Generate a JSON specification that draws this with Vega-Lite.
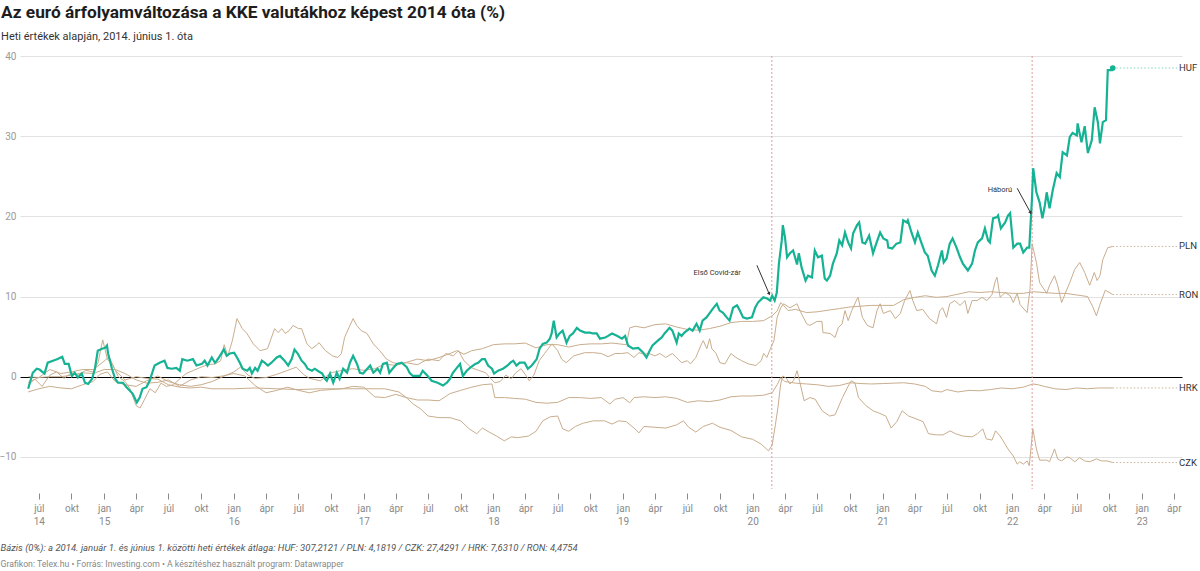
{
"$schema":"https://vega.github.io/schema/vega-lite/v6.json",
"width":1162,"height":433,
"autosize":{"type":"none"},
"padding":{"left":20,"top":56,"right":18,"bottom":82},
"background":"white",
"title":{"text":"Az euró árfolyamváltozása a KKE valutákhoz képest 2014 óta (%)","subtitle":"Heti értékek alapján, 2014. június 1. óta","anchor":"start","dx":2,"offset":9,"font":"Roboto","fontSize":17.3,"fontWeight":"bold","color":"#1d1d1d","subtitleFont":"Roboto","subtitleFontSize":11,"subtitleColor":"#333333","subtitlePadding":10},
"datasets":{
"fx":[
{"c":"HUF","d":"2014-06-01","v":-1.5},{"c":"HUF","d":"2014-06-14","v":0.5},{"c":"HUF","d":"2014-06-25","v":1.0},{"c":"HUF","d":"2014-07-03","v":0.9},{"c":"HUF","d":"2014-07-17","v":0.4},{"c":"HUF","d":"2014-07-26","v":1.75},{"c":"HUF","d":"2014-08-10","v":2.0},{"c":"HUF","d":"2014-08-23","v":2.2},{"c":"HUF","d":"2014-09-05","v":2.5},{"c":"HUF","d":"2014-09-12","v":1.6},{"c":"HUF","d":"2014-09-23","v":1.6},{"c":"HUF","d":"2014-10-02","v":0.1},{"c":"HUF","d":"2014-10-10","v":0.5},{"c":"HUF","d":"2014-10-19","v":-0.1},{"c":"HUF","d":"2014-10-30","v":0.4},{"c":"HUF","d":"2014-11-08","v":-0.75},{"c":"HUF","d":"2014-11-17","v":-0.9},{"c":"HUF","d":"2014-11-28","v":-0.25},{"c":"HUF","d":"2014-12-06","v":1.0},{"c":"HUF","d":"2014-12-14","v":3.25},{"c":"HUF","d":"2014-12-26","v":3.5},{"c":"HUF","d":"2015-01-04","v":3.6},{"c":"HUF","d":"2015-01-09","v":3.9},{"c":"HUF","d":"2015-01-12","v":2.9},{"c":"HUF","d":"2015-01-23","v":1.0},{"c":"HUF","d":"2015-02-01","v":-0.25},{"c":"HUF","d":"2015-02-09","v":-0.75},{"c":"HUF","d":"2015-02-23","v":-0.75},{"c":"HUF","d":"2015-03-05","v":-1.3},{"c":"HUF","d":"2015-03-22","v":-2.1},{"c":"HUF","d":"2015-04-03","v":-3.2},{"c":"HUF","d":"2015-04-11","v":-2.6},{"c":"HUF","d":"2015-04-19","v":-1.5},{"c":"HUF","d":"2015-04-30","v":-1.3},{"c":"HUF","d":"2015-05-09","v":-0.5},{"c":"HUF","d":"2015-05-23","v":1.4},{"c":"HUF","d":"2015-06-06","v":1.75},{"c":"HUF","d":"2015-06-20","v":2.0},{"c":"HUF","d":"2015-06-28","v":1.1},{"c":"HUF","d":"2015-07-10","v":1.0},{"c":"HUF","d":"2015-07-23","v":1.1},{"c":"HUF","d":"2015-08-02","v":0.75},{"c":"HUF","d":"2015-08-09","v":2.2},{"c":"HUF","d":"2015-08-23","v":2.0},{"c":"HUF","d":"2015-09-08","v":2.2},{"c":"HUF","d":"2015-09-18","v":1.4},{"c":"HUF","d":"2015-10-03","v":1.6},{"c":"HUF","d":"2015-10-11","v":2.0},{"c":"HUF","d":"2015-10-19","v":1.4},{"c":"HUF","d":"2015-10-31","v":2.4},{"c":"HUF","d":"2015-11-09","v":1.75},{"c":"HUF","d":"2015-11-14","v":2.0},{"c":"HUF","d":"2015-11-23","v":2.6},{"c":"HUF","d":"2015-12-04","v":3.4},{"c":"HUF","d":"2015-12-12","v":2.6},{"c":"HUF","d":"2015-12-21","v":2.9},{"c":"HUF","d":"2016-01-02","v":3.0},{"c":"HUF","d":"2016-01-10","v":2.4},{"c":"HUF","d":"2016-01-18","v":1.75},{"c":"HUF","d":"2016-01-26","v":1.0},{"c":"HUF","d":"2016-02-08","v":0.75},{"c":"HUF","d":"2016-02-15","v":1.1},{"c":"HUF","d":"2016-02-21","v":0.4},{"c":"HUF","d":"2016-03-01","v":1.1},{"c":"HUF","d":"2016-03-08","v":0.75},{"c":"HUF","d":"2016-03-20","v":2.0},{"c":"HUF","d":"2016-03-28","v":1.75},{"c":"HUF","d":"2016-04-06","v":1.4},{"c":"HUF","d":"2016-04-16","v":1.75},{"c":"HUF","d":"2016-05-01","v":2.4},{"c":"HUF","d":"2016-05-10","v":2.6},{"c":"HUF","d":"2016-05-23","v":2.0},{"c":"HUF","d":"2016-06-02","v":1.4},{"c":"HUF","d":"2016-06-12","v":2.2},{"c":"HUF","d":"2016-06-20","v":3.4},{"c":"HUF","d":"2016-06-29","v":2.9},{"c":"HUF","d":"2016-07-10","v":2.0},{"c":"HUF","d":"2016-07-19","v":1.6},{"c":"HUF","d":"2016-07-27","v":1.0},{"c":"HUF","d":"2016-08-08","v":0.75},{"c":"HUF","d":"2016-08-16","v":1.0},{"c":"HUF","d":"2016-08-24","v":0.75},{"c":"HUF","d":"2016-09-06","v":0.4},{"c":"HUF","d":"2016-09-14","v":-0.25},{"c":"HUF","d":"2016-09-19","v":-0.5},{"c":"HUF","d":"2016-09-28","v":0.4},{"c":"HUF","d":"2016-10-07","v":-0.75},{"c":"HUF","d":"2016-10-17","v":0.5},{"c":"HUF","d":"2016-10-25","v":-0.25},{"c":"HUF","d":"2016-11-04","v":1.0},{"c":"HUF","d":"2016-11-15","v":0.5},{"c":"HUF","d":"2016-11-23","v":1.75},{"c":"HUF","d":"2016-12-02","v":2.6},{"c":"HUF","d":"2016-12-13","v":1.6},{"c":"HUF","d":"2016-12-21","v":0.5},{"c":"HUF","d":"2016-12-30","v":0.4},{"c":"HUF","d":"2017-01-11","v":1.0},{"c":"HUF","d":"2017-01-19","v":1.4},{"c":"HUF","d":"2017-01-28","v":0.5},{"c":"HUF","d":"2017-02-09","v":1.0},{"c":"HUF","d":"2017-02-16","v":0.5},{"c":"HUF","d":"2017-02-24","v":1.6},{"c":"HUF","d":"2017-03-07","v":1.75},{"c":"HUF","d":"2017-03-14","v":0.5},{"c":"HUF","d":"2017-03-23","v":1.0},{"c":"HUF","d":"2017-04-04","v":1.6},{"c":"HUF","d":"2017-04-18","v":1.75},{"c":"HUF","d":"2017-05-02","v":1.2},{"c":"HUF","d":"2017-05-10","v":0.5},{"c":"HUF","d":"2017-05-19","v":0.1},{"c":"HUF","d":"2017-06-08","v":0.1},{"c":"HUF","d":"2017-06-16","v":0.75},{"c":"HUF","d":"2017-06-30","v":0.1},{"c":"HUF","d":"2017-07-11","v":-0.5},{"c":"HUF","d":"2017-07-28","v":-0.75},{"c":"HUF","d":"2017-08-12","v":-1.1},{"c":"HUF","d":"2017-08-23","v":-0.75},{"c":"HUF","d":"2017-09-01","v":-0.25},{"c":"HUF","d":"2017-09-09","v":0.5},{"c":"HUF","d":"2017-09-20","v":1.1},{"c":"HUF","d":"2017-09-29","v":1.6},{"c":"HUF","d":"2017-10-07","v":0.1},{"c":"HUF","d":"2017-10-18","v":0.75},{"c":"HUF","d":"2017-10-27","v":1.1},{"c":"HUF","d":"2017-11-11","v":1.6},{"c":"HUF","d":"2017-11-19","v":1.75},{"c":"HUF","d":"2017-11-30","v":2.2},{"c":"HUF","d":"2017-12-08","v":2.2},{"c":"HUF","d":"2017-12-17","v":1.4},{"c":"HUF","d":"2017-12-28","v":1.0},{"c":"HUF","d":"2018-01-03","v":0.4},{"c":"HUF","d":"2018-01-14","v":0.75},{"c":"HUF","d":"2018-01-28","v":1.0},{"c":"HUF","d":"2018-02-10","v":1.4},{"c":"HUF","d":"2018-02-18","v":1.75},{"c":"HUF","d":"2018-02-26","v":2.0},{"c":"HUF","d":"2018-03-07","v":1.4},{"c":"HUF","d":"2018-03-16","v":1.75},{"c":"HUF","d":"2018-03-30","v":1.75},{"c":"HUF","d":"2018-04-08","v":1.0},{"c":"HUF","d":"2018-04-19","v":1.4},{"c":"HUF","d":"2018-05-03","v":2.2},{"c":"HUF","d":"2018-05-11","v":3.5},{"c":"HUF","d":"2018-05-20","v":4.1},{"c":"HUF","d":"2018-05-31","v":4.25},{"c":"HUF","d":"2018-06-09","v":4.75},{"c":"HUF","d":"2018-06-14","v":5.4},{"c":"HUF","d":"2018-06-20","v":7.0},{"c":"HUF","d":"2018-06-28","v":4.9},{"c":"HUF","d":"2018-07-06","v":5.4},{"c":"HUF","d":"2018-07-15","v":5.75},{"c":"HUF","d":"2018-07-26","v":4.25},{"c":"HUF","d":"2018-08-04","v":5.1},{"c":"HUF","d":"2018-08-13","v":5.4},{"c":"HUF","d":"2018-08-24","v":6.1},{"c":"HUF","d":"2018-09-02","v":5.75},{"c":"HUF","d":"2018-09-16","v":5.5},{"c":"HUF","d":"2018-09-30","v":5.5},{"c":"HUF","d":"2018-10-08","v":5.4},{"c":"HUF","d":"2018-10-19","v":5.4},{"c":"HUF","d":"2018-10-28","v":4.75},{"c":"HUF","d":"2018-11-12","v":4.9},{"c":"HUF","d":"2018-11-20","v":5.1},{"c":"HUF","d":"2018-12-01","v":5.4},{"c":"HUF","d":"2018-12-15","v":5.1},{"c":"HUF","d":"2018-12-29","v":4.75},{"c":"HUF","d":"2019-01-07","v":5.1},{"c":"HUF","d":"2019-01-15","v":3.9},{"c":"HUF","d":"2019-01-29","v":3.5},{"c":"HUF","d":"2019-02-13","v":3.6},{"c":"HUF","d":"2019-02-27","v":3.0},{"c":"HUF","d":"2019-03-08","v":2.4},{"c":"HUF","d":"2019-03-17","v":3.25},{"c":"HUF","d":"2019-03-25","v":3.9},{"c":"HUF","d":"2019-04-09","v":4.5},{"c":"HUF","d":"2019-04-20","v":4.9},{"c":"HUF","d":"2019-04-28","v":5.4},{"c":"HUF","d":"2019-05-12","v":6.1},{"c":"HUF","d":"2019-05-20","v":5.75},{"c":"HUF","d":"2019-06-01","v":4.25},{"c":"HUF","d":"2019-06-07","v":5.4},{"c":"HUF","d":"2019-06-15","v":5.1},{"c":"HUF","d":"2019-06-23","v":5.5},{"c":"HUF","d":"2019-07-07","v":6.0},{"c":"HUF","d":"2019-07-16","v":5.75},{"c":"HUF","d":"2019-07-27","v":6.6},{"c":"HUF","d":"2019-08-05","v":5.75},{"c":"HUF","d":"2019-08-13","v":7.0},{"c":"HUF","d":"2019-08-24","v":7.4},{"c":"HUF","d":"2019-09-03","v":8.0},{"c":"HUF","d":"2019-09-11","v":8.5},{"c":"HUF","d":"2019-09-22","v":9.1},{"c":"HUF","d":"2019-09-30","v":8.25},{"c":"HUF","d":"2019-10-09","v":8.0},{"c":"HUF","d":"2019-10-20","v":7.4},{"c":"HUF","d":"2019-10-28","v":7.0},{"c":"HUF","d":"2019-11-07","v":8.6},{"c":"HUF","d":"2019-11-18","v":8.9},{"c":"HUF","d":"2019-11-26","v":8.25},{"c":"HUF","d":"2019-12-05","v":7.4},{"c":"HUF","d":"2019-12-16","v":7.25},{"c":"HUF","d":"2019-12-30","v":7.4},{"c":"HUF","d":"2020-01-08","v":8.6},{"c":"HUF","d":"2020-01-16","v":9.25},{"c":"HUF","d":"2020-01-31","v":9.9},{"c":"HUF","d":"2020-02-11","v":9.75},{"c":"HUF","d":"2020-02-19","v":9.5},{"c":"HUF","d":"2020-02-25","v":10.1},{"c":"HUF","d":"2020-03-03","v":9.5},{"c":"HUF","d":"2020-03-09","v":10.5},{"c":"HUF","d":"2020-03-15","v":14.1},{"c":"HUF","d":"2020-03-23","v":17.0},{"c":"HUF","d":"2020-03-26","v":18.9},{"c":"HUF","d":"2020-04-01","v":17.4},{"c":"HUF","d":"2020-04-07","v":14.9},{"c":"HUF","d":"2020-04-15","v":15.4},{"c":"HUF","d":"2020-04-24","v":15.75},{"c":"HUF","d":"2020-05-05","v":14.0},{"c":"HUF","d":"2020-05-10","v":15.4},{"c":"HUF","d":"2020-05-18","v":13.6},{"c":"HUF","d":"2020-05-29","v":12.0},{"c":"HUF","d":"2020-06-05","v":12.6},{"c":"HUF","d":"2020-06-16","v":12.4},{"c":"HUF","d":"2020-06-24","v":15.75},{"c":"HUF","d":"2020-07-03","v":14.9},{"c":"HUF","d":"2020-07-14","v":15.1},{"c":"HUF","d":"2020-07-22","v":12.25},{"c":"HUF","d":"2020-07-28","v":12.0},{"c":"HUF","d":"2020-08-06","v":12.6},{"c":"HUF","d":"2020-08-14","v":14.1},{"c":"HUF","d":"2020-08-25","v":15.4},{"c":"HUF","d":"2020-09-01","v":17.0},{"c":"HUF","d":"2020-09-09","v":16.4},{"c":"HUF","d":"2020-09-17","v":18.0},{"c":"HUF","d":"2020-09-26","v":16.75},{"c":"HUF","d":"2020-10-04","v":16.0},{"c":"HUF","d":"2020-10-10","v":17.9},{"c":"HUF","d":"2020-10-21","v":18.9},{"c":"HUF","d":"2020-10-27","v":19.25},{"c":"HUF","d":"2020-11-05","v":16.75},{"c":"HUF","d":"2020-11-13","v":16.6},{"c":"HUF","d":"2020-11-24","v":17.6},{"c":"HUF","d":"2020-12-05","v":15.4},{"c":"HUF","d":"2020-12-14","v":16.6},{"c":"HUF","d":"2020-12-25","v":18.0},{"c":"HUF","d":"2021-01-03","v":17.25},{"c":"HUF","d":"2021-01-14","v":17.0},{"c":"HUF","d":"2021-01-17","v":16.1},{"c":"HUF","d":"2021-01-28","v":16.0},{"c":"HUF","d":"2021-02-09","v":16.6},{"c":"HUF","d":"2021-02-20","v":16.75},{"c":"HUF","d":"2021-02-28","v":19.5},{"c":"HUF","d":"2021-03-10","v":19.25},{"c":"HUF","d":"2021-03-13","v":19.5},{"c":"HUF","d":"2021-03-24","v":17.9},{"c":"HUF","d":"2021-04-02","v":16.75},{"c":"HUF","d":"2021-04-10","v":18.0},{"c":"HUF","d":"2021-04-21","v":16.6},{"c":"HUF","d":"2021-04-30","v":15.5},{"c":"HUF","d":"2021-05-08","v":15.1},{"c":"HUF","d":"2021-05-19","v":13.25},{"c":"HUF","d":"2021-05-28","v":12.6},{"c":"HUF","d":"2021-06-06","v":13.9},{"c":"HUF","d":"2021-06-17","v":15.75},{"c":"HUF","d":"2021-06-22","v":14.25},{"c":"HUF","d":"2021-06-30","v":14.75},{"c":"HUF","d":"2021-07-09","v":16.6},{"c":"HUF","d":"2021-07-17","v":17.25},{"c":"HUF","d":"2021-07-28","v":16.1},{"c":"HUF","d":"2021-08-07","v":14.9},{"c":"HUF","d":"2021-08-15","v":14.1},{"c":"HUF","d":"2021-08-29","v":13.25},{"c":"HUF","d":"2021-09-10","v":14.1},{"c":"HUF","d":"2021-09-18","v":15.75},{"c":"HUF","d":"2021-09-26","v":16.75},{"c":"HUF","d":"2021-10-08","v":17.25},{"c":"HUF","d":"2021-10-16","v":18.5},{"c":"HUF","d":"2021-10-25","v":17.0},{"c":"HUF","d":"2021-10-30","v":16.75},{"c":"HUF","d":"2021-11-08","v":19.75},{"c":"HUF","d":"2021-11-19","v":19.9},{"c":"HUF","d":"2021-11-22","v":20.1},{"c":"HUF","d":"2021-11-30","v":18.5},{"c":"HUF","d":"2021-12-12","v":19.25},{"c":"HUF","d":"2021-12-20","v":20.1},{"c":"HUF","d":"2021-12-26","v":20.4},{"c":"HUF","d":"2022-01-04","v":16.1},{"c":"HUF","d":"2022-01-15","v":16.6},{"c":"HUF","d":"2022-01-23","v":16.6},{"c":"HUF","d":"2022-02-01","v":15.5},{"c":"HUF","d":"2022-02-12","v":16.1},{"c":"HUF","d":"2022-02-18","v":16.1},{"c":"HUF","d":"2022-02-26","v":22.6},{"c":"HUF","d":"2022-03-01","v":26.0},{"c":"HUF","d":"2022-03-10","v":23.0},{"c":"HUF","d":"2022-03-19","v":21.75},{"c":"HUF","d":"2022-03-27","v":19.75},{"c":"HUF","d":"2022-04-03","v":21.4},{"c":"HUF","d":"2022-04-08","v":23.0},{"c":"HUF","d":"2022-04-16","v":21.0},{"c":"HUF","d":"2022-04-25","v":23.25},{"c":"HUF","d":"2022-05-06","v":25.4},{"c":"HUF","d":"2022-05-15","v":24.9},{"c":"HUF","d":"2022-05-23","v":28.0},{"c":"HUF","d":"2022-06-04","v":27.6},{"c":"HUF","d":"2022-06-12","v":29.9},{"c":"HUF","d":"2022-06-20","v":30.4},{"c":"HUF","d":"2022-07-02","v":30.1},{"c":"HUF","d":"2022-07-04","v":31.6},{"c":"HUF","d":"2022-07-15","v":29.25},{"c":"HUF","d":"2022-07-24","v":31.25},{"c":"HUF","d":"2022-08-02","v":27.9},{"c":"HUF","d":"2022-08-13","v":29.5},{"c":"HUF","d":"2022-08-21","v":33.6},{"c":"HUF","d":"2022-08-30","v":31.75},{"c":"HUF","d":"2022-09-05","v":29.1},{"c":"HUF","d":"2022-09-13","v":31.75},{"c":"HUF","d":"2022-09-22","v":32.0},{"c":"HUF","d":"2022-09-27","v":38.25},{"c":"HUF","d":"2022-10-09","v":38.25},{"c":"HUF","d":"2022-10-11","v":38.5},

{"c":"PLN","d":"2014-06-01","v":-1.0},{"c":"PLN","d":"2014-06-20","v":-0.3},{"c":"PLN","d":"2014-07-10","v":-1.2},{"c":"PLN","d":"2014-08-01","v":0.2},{"c":"PLN","d":"2014-08-20","v":0.6},{"c":"PLN","d":"2014-09-10","v":-0.2},{"c":"PLN","d":"2014-10-01","v":0.5},{"c":"PLN","d":"2014-10-20","v":0.2},{"c":"PLN","d":"2014-11-10","v":0.8},{"c":"PLN","d":"2014-12-01","v":0.6},{"c":"PLN","d":"2014-12-15","v":1.8},{"c":"PLN","d":"2014-12-28","v":4.6},{"c":"PLN","d":"2015-01-10","v":2.2},{"c":"PLN","d":"2015-01-25","v":1.5},{"c":"PLN","d":"2015-02-10","v":0.0},{"c":"PLN","d":"2015-03-01","v":-0.6},{"c":"PLN","d":"2015-03-15","v":-1.5},{"c":"PLN","d":"2015-04-01","v":-3.6},{"c":"PLN","d":"2015-04-12","v":-3.9},{"c":"PLN","d":"2015-04-25","v":-2.8},{"c":"PLN","d":"2015-05-10","v":-1.5},{"c":"PLN","d":"2015-05-25","v":-2.0},{"c":"PLN","d":"2015-06-10","v":-0.8},{"c":"PLN","d":"2015-06-25","v":-1.2},{"c":"PLN","d":"2015-07-15","v":-1.0},{"c":"PLN","d":"2015-08-01","v":-0.3},{"c":"PLN","d":"2015-08-20","v":0.4},{"c":"PLN","d":"2015-09-10","v":0.8},{"c":"PLN","d":"2015-10-01","v":1.2},{"c":"PLN","d":"2015-10-20","v":1.5},{"c":"PLN","d":"2015-11-10","v":1.6},{"c":"PLN","d":"2015-11-25","v":2.0},{"c":"PLN","d":"2015-12-05","v":4.0},{"c":"PLN","d":"2015-12-15","v":2.6},{"c":"PLN","d":"2015-12-28","v":4.5},{"c":"PLN","d":"2016-01-10","v":7.25},{"c":"PLN","d":"2016-01-25","v":6.0},{"c":"PLN","d":"2016-02-07","v":5.4},{"c":"PLN","d":"2016-02-25","v":4.1},{"c":"PLN","d":"2016-03-15","v":3.25},{"c":"PLN","d":"2016-04-05","v":3.5},{"c":"PLN","d":"2016-04-15","v":4.75},{"c":"PLN","d":"2016-04-25","v":6.0},{"c":"PLN","d":"2016-05-05","v":5.5},{"c":"PLN","d":"2016-05-15","v":6.0},{"c":"PLN","d":"2016-05-25","v":5.4},{"c":"PLN","d":"2016-06-05","v":5.75},{"c":"PLN","d":"2016-06-16","v":6.4},{"c":"PLN","d":"2016-07-01","v":6.0},{"c":"PLN","d":"2016-07-10","v":6.0},{"c":"PLN","d":"2016-07-25","v":4.1},{"c":"PLN","d":"2016-08-08","v":3.5},{"c":"PLN","d":"2016-08-20","v":3.9},{"c":"PLN","d":"2016-08-28","v":4.25},{"c":"PLN","d":"2016-09-15","v":3.25},{"c":"PLN","d":"2016-10-05","v":2.6},{"c":"PLN","d":"2016-10-20","v":2.4},{"c":"PLN","d":"2016-10-30","v":2.9},{"c":"PLN","d":"2016-11-08","v":4.9},{"c":"PLN","d":"2016-11-20","v":6.1},{"c":"PLN","d":"2016-12-02","v":7.25},{"c":"PLN","d":"2016-12-12","v":6.4},{"c":"PLN","d":"2016-12-25","v":5.75},{"c":"PLN","d":"2017-01-10","v":5.4},{"c":"PLN","d":"2017-01-28","v":4.1},{"c":"PLN","d":"2017-02-15","v":3.25},{"c":"PLN","d":"2017-03-06","v":2.2},{"c":"PLN","d":"2017-03-25","v":1.75},{"c":"PLN","d":"2017-04-10","v":1.6},{"c":"PLN","d":"2017-05-01","v":1.75},{"c":"PLN","d":"2017-06-01","v":1.5},{"c":"PLN","d":"2017-07-01","v":2.2},{"c":"PLN","d":"2017-08-01","v":2.0},{"c":"PLN","d":"2017-08-20","v":2.9},{"c":"PLN","d":"2017-09-10","v":2.6},{"c":"PLN","d":"2017-09-25","v":3.25},{"c":"PLN","d":"2017-10-10","v":2.0},{"c":"PLN","d":"2017-11-01","v":1.1},{"c":"PLN","d":"2017-11-20","v":0.8},{"c":"PLN","d":"2017-12-10","v":0.5},{"c":"PLN","d":"2017-12-25","v":-0.25},{"c":"PLN","d":"2018-01-05","v":-0.75},{"c":"PLN","d":"2018-01-20","v":-0.6},{"c":"PLN","d":"2018-02-05","v":0.2},{"c":"PLN","d":"2018-02-20","v":-0.25},{"c":"PLN","d":"2018-03-05","v":0.5},{"c":"PLN","d":"2018-03-20","v":1.0},{"c":"PLN","d":"2018-04-05","v":0.0},{"c":"PLN","d":"2018-04-12","v":-0.5},{"c":"PLN","d":"2018-04-25","v":0.2},{"c":"PLN","d":"2018-05-10","v":2.0},{"c":"PLN","d":"2018-05-25","v":2.9},{"c":"PLN","d":"2018-06-15","v":4.1},{"c":"PLN","d":"2018-07-01","v":3.25},{"c":"PLN","d":"2018-07-12","v":2.2},{"c":"PLN","d":"2018-07-25","v":1.75},{"c":"PLN","d":"2018-08-15","v":2.6},{"c":"PLN","d":"2018-09-15","v":3.0},{"c":"PLN","d":"2018-10-10","v":3.0},{"c":"PLN","d":"2018-11-01","v":2.9},{"c":"PLN","d":"2018-11-20","v":2.5},{"c":"PLN","d":"2018-12-10","v":2.9},{"c":"PLN","d":"2018-12-28","v":2.9},{"c":"PLN","d":"2019-01-15","v":3.0},{"c":"PLN","d":"2019-02-01","v":2.4},{"c":"PLN","d":"2019-02-15","v":3.0},{"c":"PLN","d":"2019-03-01","v":2.8},{"c":"PLN","d":"2019-03-15","v":2.9},{"c":"PLN","d":"2019-04-01","v":2.6},{"c":"PLN","d":"2019-04-15","v":2.9},{"c":"PLN","d":"2019-05-01","v":2.4},{"c":"PLN","d":"2019-05-20","v":2.9},{"c":"PLN","d":"2019-06-05","v":2.2},{"c":"PLN","d":"2019-06-15","v":1.75},{"c":"PLN","d":"2019-07-01","v":2.0},{"c":"PLN","d":"2019-07-10","v":1.6},{"c":"PLN","d":"2019-07-25","v":2.4},{"c":"PLN","d":"2019-08-10","v":4.1},{"c":"PLN","d":"2019-08-15","v":4.5},{"c":"PLN","d":"2019-08-25","v":3.5},{"c":"PLN","d":"2019-09-02","v":4.75},{"c":"PLN","d":"2019-09-08","v":3.5},{"c":"PLN","d":"2019-09-20","v":2.9},{"c":"PLN","d":"2019-10-01","v":1.75},{"c":"PLN","d":"2019-10-15","v":1.6},{"c":"PLN","d":"2019-11-01","v":2.9},{"c":"PLN","d":"2019-11-15","v":2.4},{"c":"PLN","d":"2019-12-01","v":2.0},{"c":"PLN","d":"2019-12-20","v":1.6},{"c":"PLN","d":"2020-01-10","v":1.4},{"c":"PLN","d":"2020-01-25","v":2.0},{"c":"PLN","d":"2020-02-01","v":2.9},{"c":"PLN","d":"2020-02-10","v":2.4},{"c":"PLN","d":"2020-02-20","v":3.5},{"c":"PLN","d":"2020-03-01","v":4.5},{"c":"PLN","d":"2020-03-10","v":7.4},{"c":"PLN","d":"2020-03-20","v":8.6},{"c":"PLN","d":"2020-03-28","v":9.1},{"c":"PLN","d":"2020-04-15","v":8.6},{"c":"PLN","d":"2020-05-05","v":9.1},{"c":"PLN","d":"2020-05-13","v":8.25},{"c":"PLN","d":"2020-06-01","v":6.6},{"c":"PLN","d":"2020-06-10","v":6.4},{"c":"PLN","d":"2020-06-30","v":6.9},{"c":"PLN","d":"2020-07-14","v":6.9},{"c":"PLN","d":"2020-07-17","v":5.5},{"c":"PLN","d":"2020-08-06","v":5.4},{"c":"PLN","d":"2020-08-20","v":4.9},{"c":"PLN","d":"2020-08-29","v":6.1},{"c":"PLN","d":"2020-09-09","v":6.6},{"c":"PLN","d":"2020-09-17","v":8.25},{"c":"PLN","d":"2020-09-26","v":7.0},{"c":"PLN","d":"2020-10-06","v":8.25},{"c":"PLN","d":"2020-10-21","v":9.7},{"c":"PLN","d":"2020-10-24","v":9.9},{"c":"PLN","d":"2020-11-05","v":7.4},{"c":"PLN","d":"2020-11-19","v":6.4},{"c":"PLN","d":"2020-12-05","v":6.1},{"c":"PLN","d":"2020-12-16","v":8.25},{"c":"PLN","d":"2020-12-25","v":9.1},{"c":"PLN","d":"2021-01-03","v":7.9},{"c":"PLN","d":"2021-01-23","v":8.25},{"c":"PLN","d":"2021-02-06","v":7.25},{"c":"PLN","d":"2021-02-20","v":7.9},{"c":"PLN","d":"2021-03-04","v":9.5},{"c":"PLN","d":"2021-03-19","v":10.75},{"c":"PLN","d":"2021-03-27","v":9.5},{"c":"PLN","d":"2021-04-07","v":8.25},{"c":"PLN","d":"2021-04-24","v":8.4},{"c":"PLN","d":"2021-05-13","v":7.25},{"c":"PLN","d":"2021-06-02","v":6.6},{"c":"PLN","d":"2021-06-11","v":8.25},{"c":"PLN","d":"2021-06-19","v":8.6},{"c":"PLN","d":"2021-06-30","v":7.4},{"c":"PLN","d":"2021-07-09","v":9.1},{"c":"PLN","d":"2021-07-23","v":9.5},{"c":"PLN","d":"2021-08-07","v":8.9},{"c":"PLN","d":"2021-08-21","v":9.5},{"c":"PLN","d":"2021-08-29","v":7.9},{"c":"PLN","d":"2021-09-10","v":9.5},{"c":"PLN","d":"2021-09-24","v":9.5},{"c":"PLN","d":"2021-10-08","v":9.9},{"c":"PLN","d":"2021-10-22","v":9.5},{"c":"PLN","d":"2021-11-05","v":10.25},{"c":"PLN","d":"2021-11-14","v":11.9},{"c":"PLN","d":"2021-11-19","v":12.4},{"c":"PLN","d":"2021-11-28","v":9.9},{"c":"PLN","d":"2021-12-12","v":10.5},{"c":"PLN","d":"2021-12-26","v":10.1},{"c":"PLN","d":"2022-01-04","v":9.25},{"c":"PLN","d":"2022-01-15","v":10.4},{"c":"PLN","d":"2022-01-23","v":9.0},{"c":"PLN","d":"2022-02-12","v":8.0},{"c":"PLN","d":"2022-02-20","v":10.9},{"c":"PLN","d":"2022-02-26","v":16.6},{"c":"PLN","d":"2022-03-10","v":14.25},{"c":"PLN","d":"2022-03-19","v":11.75},{"c":"PLN","d":"2022-04-08","v":10.4},{"c":"PLN","d":"2022-04-16","v":11.4},{"c":"PLN","d":"2022-04-30","v":12.6},{"c":"PLN","d":"2022-05-09","v":11.4},{"c":"PLN","d":"2022-05-20","v":9.25},{"c":"PLN","d":"2022-06-04","v":10.9},{"c":"PLN","d":"2022-06-12","v":11.75},{"c":"PLN","d":"2022-06-26","v":13.4},{"c":"PLN","d":"2022-07-10","v":14.25},{"c":"PLN","d":"2022-07-24","v":13.0},{"c":"PLN","d":"2022-08-07","v":11.4},{"c":"PLN","d":"2022-08-20","v":13.0},{"c":"PLN","d":"2022-08-28","v":12.0},{"c":"PLN","d":"2022-09-05","v":12.6},{"c":"PLN","d":"2022-09-13","v":14.6},{"c":"PLN","d":"2022-09-27","v":16.1},{"c":"PLN","d":"2022-10-11","v":16.25},

{"c":"RON","d":"2014-06-01","v":-1.9},{"c":"RON","d":"2014-07-01","v":-1.5},{"c":"RON","d":"2014-08-01","v":-1.2},{"c":"RON","d":"2014-09-01","v":-1.4},{"c":"RON","d":"2014-10-01","v":-1.5},{"c":"RON","d":"2014-11-01","v":-1.0},{"c":"RON","d":"2014-12-01","v":-0.6},{"c":"RON","d":"2014-12-20","v":0.3},{"c":"RON","d":"2015-01-10","v":0.6},{"c":"RON","d":"2015-02-01","v":-0.6},{"c":"RON","d":"2015-03-01","v":-1.0},{"c":"RON","d":"2015-04-01","v":-1.2},{"c":"RON","d":"2015-05-01","v":-0.5},{"c":"RON","d":"2015-06-01","v":0.1},{"c":"RON","d":"2015-07-01","v":-0.6},{"c":"RON","d":"2015-08-01","v":-1.0},{"c":"RON","d":"2015-09-01","v":-1.2},{"c":"RON","d":"2015-10-01","v":-1.0},{"c":"RON","d":"2015-11-01","v":-0.6},{"c":"RON","d":"2015-12-01","v":0.0},{"c":"RON","d":"2016-01-01","v":0.6},{"c":"RON","d":"2016-01-20","v":1.2},{"c":"RON","d":"2016-02-10","v":0.2},{"c":"RON","d":"2016-03-01","v":-0.2},{"c":"RON","d":"2016-04-01","v":-0.1},{"c":"RON","d":"2016-05-01","v":0.3},{"c":"RON","d":"2016-06-01","v":0.8},{"c":"RON","d":"2016-06-25","v":1.2},{"c":"RON","d":"2016-07-15","v":0.3},{"c":"RON","d":"2016-08-01","v":-0.2},{"c":"RON","d":"2016-09-01","v":-0.5},{"c":"RON","d":"2016-10-01","v":0.5},{"c":"RON","d":"2016-11-01","v":0.8},{"c":"RON","d":"2016-12-01","v":1.0},{"c":"RON","d":"2017-01-01","v":0.8},{"c":"RON","d":"2017-02-01","v":1.0},{"c":"RON","d":"2017-03-01","v":1.6},{"c":"RON","d":"2017-04-01","v":1.4},{"c":"RON","d":"2017-05-01","v":1.8},{"c":"RON","d":"2017-06-01","v":2.2},{"c":"RON","d":"2017-07-01","v":2.0},{"c":"RON","d":"2017-08-01","v":2.4},{"c":"RON","d":"2017-09-01","v":2.9},{"c":"RON","d":"2017-09-20","v":3.25},{"c":"RON","d":"2017-10-10","v":2.8},{"c":"RON","d":"2017-11-01","v":3.25},{"c":"RON","d":"2017-12-01","v":3.5},{"c":"RON","d":"2018-01-01","v":4.0},{"c":"RON","d":"2018-02-01","v":4.1},{"c":"RON","d":"2018-03-01","v":4.1},{"c":"RON","d":"2018-04-01","v":4.2},{"c":"RON","d":"2018-05-01","v":3.6},{"c":"RON","d":"2018-06-01","v":4.0},{"c":"RON","d":"2018-07-01","v":4.0},{"c":"RON","d":"2018-08-01","v":3.7},{"c":"RON","d":"2018-09-01","v":4.0},{"c":"RON","d":"2018-10-01","v":4.1},{"c":"RON","d":"2018-11-01","v":4.1},{"c":"RON","d":"2018-12-01","v":4.2},{"c":"RON","d":"2019-01-10","v":4.0},{"c":"RON","d":"2019-01-20","v":6.1},{"c":"RON","d":"2019-02-05","v":6.3},{"c":"RON","d":"2019-03-01","v":6.1},{"c":"RON","d":"2019-04-01","v":6.5},{"c":"RON","d":"2019-05-01","v":6.6},{"c":"RON","d":"2019-06-01","v":6.2},{"c":"RON","d":"2019-07-01","v":5.9},{"c":"RON","d":"2019-08-01","v":5.8},{"c":"RON","d":"2019-09-01","v":6.0},{"c":"RON","d":"2019-10-01","v":6.3},{"c":"RON","d":"2019-11-01","v":6.75},{"c":"RON","d":"2019-12-01","v":6.9},{"c":"RON","d":"2020-01-01","v":6.9},{"c":"RON","d":"2020-02-01","v":7.0},{"c":"RON","d":"2020-02-25","v":7.6},{"c":"RON","d":"2020-03-10","v":8.2},{"c":"RON","d":"2020-03-20","v":9.25},{"c":"RON","d":"2020-03-28","v":8.9},{"c":"RON","d":"2020-04-10","v":8.25},{"c":"RON","d":"2020-05-01","v":8.4},{"c":"RON","d":"2020-06-01","v":8.0},{"c":"RON","d":"2020-07-01","v":8.1},{"c":"RON","d":"2020-08-01","v":8.3},{"c":"RON","d":"2020-09-01","v":8.5},{"c":"RON","d":"2020-10-01","v":8.7},{"c":"RON","d":"2020-11-01","v":8.8},{"c":"RON","d":"2020-12-01","v":8.9},{"c":"RON","d":"2021-01-01","v":8.9},{"c":"RON","d":"2021-02-01","v":8.9},{"c":"RON","d":"2021-03-01","v":9.6},{"c":"RON","d":"2021-04-01","v":9.9},{"c":"RON","d":"2021-05-01","v":10.1},{"c":"RON","d":"2021-06-01","v":9.9},{"c":"RON","d":"2021-07-01","v":10.0},{"c":"RON","d":"2021-08-01","v":10.3},{"c":"RON","d":"2021-09-01","v":10.6},{"c":"RON","d":"2021-10-01","v":10.5},{"c":"RON","d":"2021-11-01","v":10.6},{"c":"RON","d":"2021-12-01","v":10.5},{"c":"RON","d":"2022-01-01","v":10.4},{"c":"RON","d":"2022-02-01","v":10.4},{"c":"RON","d":"2022-03-01","v":10.6},{"c":"RON","d":"2022-04-01","v":10.5},{"c":"RON","d":"2022-05-01","v":10.4},{"c":"RON","d":"2022-06-01","v":10.4},{"c":"RON","d":"2022-07-01","v":10.2},{"c":"RON","d":"2022-08-01","v":10.0},{"c":"RON","d":"2022-08-15","v":8.8},{"c":"RON","d":"2022-08-26","v":7.6},{"c":"RON","d":"2022-09-05","v":9.0},{"c":"RON","d":"2022-09-20","v":10.8},{"c":"RON","d":"2022-10-11","v":10.25},

{"c":"HRK","d":"2014-06-01","v":-0.7},{"c":"HRK","d":"2014-07-01","v":-0.1},{"c":"HRK","d":"2014-08-01","v":0.0},{"c":"HRK","d":"2014-09-01","v":0.0},{"c":"HRK","d":"2014-10-01","v":0.2},{"c":"HRK","d":"2014-11-01","v":0.5},{"c":"HRK","d":"2014-12-01","v":0.4},{"c":"HRK","d":"2015-01-01","v":0.9},{"c":"HRK","d":"2015-02-01","v":0.9},{"c":"HRK","d":"2015-03-01","v":0.4},{"c":"HRK","d":"2015-04-01","v":-0.4},{"c":"HRK","d":"2015-05-01","v":-0.8},{"c":"HRK","d":"2015-06-01","v":-0.7},{"c":"HRK","d":"2015-07-01","v":-0.4},{"c":"HRK","d":"2015-08-01","v":-1.2},{"c":"HRK","d":"2015-09-01","v":-0.4},{"c":"HRK","d":"2015-10-01","v":0.0},{"c":"HRK","d":"2015-11-01","v":-0.1},{"c":"HRK","d":"2015-12-01","v":0.1},{"c":"HRK","d":"2016-01-01","v":0.4},{"c":"HRK","d":"2016-02-01","v":0.1},{"c":"HRK","d":"2016-03-01","v":-1.1},{"c":"HRK","d":"2016-04-01","v":-2.0},{"c":"HRK","d":"2016-05-01","v":-1.7},{"c":"HRK","d":"2016-06-01","v":-1.3},{"c":"HRK","d":"2016-07-01","v":-1.7},{"c":"HRK","d":"2016-08-01","v":-2.0},{"c":"HRK","d":"2016-09-01","v":-1.7},{"c":"HRK","d":"2016-10-01","v":-1.6},{"c":"HRK","d":"2016-11-01","v":-1.5},{"c":"HRK","d":"2016-12-01","v":-1.2},{"c":"HRK","d":"2017-01-01","v":-1.3},{"c":"HRK","d":"2017-02-01","v":-2.5},{"c":"HRK","d":"2017-03-01","v":-2.6},{"c":"HRK","d":"2017-04-01","v":-2.2},{"c":"HRK","d":"2017-05-01","v":-2.6},{"c":"HRK","d":"2017-06-01","v":-2.9},{"c":"HRK","d":"2017-07-01","v":-2.9},{"c":"HRK","d":"2017-08-01","v":-3.0},{"c":"HRK","d":"2017-09-01","v":-2.1},{"c":"HRK","d":"2017-10-01","v":-1.7},{"c":"HRK","d":"2017-11-01","v":-1.3},{"c":"HRK","d":"2017-12-01","v":-1.0},{"c":"HRK","d":"2017-12-28","v":-0.9},{"c":"HRK","d":"2018-01-05","v":-2.6},{"c":"HRK","d":"2018-02-01","v":-2.6},{"c":"HRK","d":"2018-03-01","v":-2.7},{"c":"HRK","d":"2018-04-01","v":-2.8},{"c":"HRK","d":"2018-05-01","v":-3.2},{"c":"HRK","d":"2018-06-01","v":-3.3},{"c":"HRK","d":"2018-07-01","v":-3.2},{"c":"HRK","d":"2018-08-01","v":-2.6},{"c":"HRK","d":"2018-09-01","v":-2.6},{"c":"HRK","d":"2018-10-01","v":-2.7},{"c":"HRK","d":"2018-11-01","v":-2.6},{"c":"HRK","d":"2018-11-25","v":-3.4},{"c":"HRK","d":"2018-12-10","v":-2.8},{"c":"HRK","d":"2019-01-01","v":-2.6},{"c":"HRK","d":"2019-01-20","v":-3.25},{"c":"HRK","d":"2019-02-01","v":-2.6},{"c":"HRK","d":"2019-03-01","v":-2.5},{"c":"HRK","d":"2019-04-01","v":-2.6},{"c":"HRK","d":"2019-05-01","v":-2.5},{"c":"HRK","d":"2019-06-01","v":-2.7},{"c":"HRK","d":"2019-07-01","v":-3.2},{"c":"HRK","d":"2019-08-01","v":-3.0},{"c":"HRK","d":"2019-09-01","v":-3.1},{"c":"HRK","d":"2019-10-01","v":-2.9},{"c":"HRK","d":"2019-11-01","v":-2.5},{"c":"HRK","d":"2019-12-01","v":-2.4},{"c":"HRK","d":"2020-01-01","v":-2.4},{"c":"HRK","d":"2020-02-01","v":-2.3},{"c":"HRK","d":"2020-02-25","v":-2.0},{"c":"HRK","d":"2020-03-10","v":-1.0},{"c":"HRK","d":"2020-03-20","v":-0.1},{"c":"HRK","d":"2020-04-01","v":-0.6},{"c":"HRK","d":"2020-05-01","v":-0.8},{"c":"HRK","d":"2020-06-01","v":-0.9},{"c":"HRK","d":"2020-07-01","v":-1.0},{"c":"HRK","d":"2020-08-01","v":-1.2},{"c":"HRK","d":"2020-09-01","v":-1.1},{"c":"HRK","d":"2020-10-01","v":-0.75},{"c":"HRK","d":"2020-11-01","v":-0.85},{"c":"HRK","d":"2020-12-01","v":-0.9},{"c":"HRK","d":"2021-01-01","v":-0.85},{"c":"HRK","d":"2021-02-01","v":-0.8},{"c":"HRK","d":"2021-03-01","v":-0.75},{"c":"HRK","d":"2021-04-01","v":-0.9},{"c":"HRK","d":"2021-05-01","v":-1.2},{"c":"HRK","d":"2021-05-20","v":-1.75},{"c":"HRK","d":"2021-06-15","v":-1.9},{"c":"HRK","d":"2021-07-01","v":-1.6},{"c":"HRK","d":"2021-08-01","v":-1.9},{"c":"HRK","d":"2021-09-01","v":-1.7},{"c":"HRK","d":"2021-10-01","v":-1.75},{"c":"HRK","d":"2021-11-01","v":-1.6},{"c":"HRK","d":"2021-12-01","v":-1.4},{"c":"HRK","d":"2022-01-01","v":-1.5},{"c":"HRK","d":"2022-02-01","v":-1.3},{"c":"HRK","d":"2022-02-28","v":-0.9},{"c":"HRK","d":"2022-03-15","v":-1.0},{"c":"HRK","d":"2022-04-01","v":-1.2},{"c":"HRK","d":"2022-05-01","v":-1.5},{"c":"HRK","d":"2022-06-01","v":-1.6},{"c":"HRK","d":"2022-07-01","v":-1.4},{"c":"HRK","d":"2022-08-01","v":-1.5},{"c":"HRK","d":"2022-09-01","v":-1.4},{"c":"HRK","d":"2022-10-11","v":-1.4},

{"c":"CZK","d":"2014-06-01","v":0.0},{"c":"CZK","d":"2014-07-01","v":-0.1},{"c":"CZK","d":"2014-08-01","v":0.9},{"c":"CZK","d":"2014-09-01","v":0.4},{"c":"CZK","d":"2014-10-01","v":0.6},{"c":"CZK","d":"2014-11-01","v":0.9},{"c":"CZK","d":"2014-12-01","v":0.9},{"c":"CZK","d":"2014-12-28","v":1.8},{"c":"CZK","d":"2015-01-15","v":2.5},{"c":"CZK","d":"2015-02-01","v":0.8},{"c":"CZK","d":"2015-03-01","v":-0.4},{"c":"CZK","d":"2015-04-01","v":0.0},{"c":"CZK","d":"2015-05-01","v":-0.2},{"c":"CZK","d":"2015-06-01","v":-0.3},{"c":"CZK","d":"2015-07-01","v":-1.0},{"c":"CZK","d":"2015-08-01","v":-1.3},{"c":"CZK","d":"2015-09-01","v":-1.4},{"c":"CZK","d":"2015-10-01","v":-1.3},{"c":"CZK","d":"2015-11-01","v":-1.5},{"c":"CZK","d":"2015-12-01","v":-1.5},{"c":"CZK","d":"2016-01-01","v":-1.5},{"c":"CZK","d":"2016-03-01","v":-1.4},{"c":"CZK","d":"2016-05-01","v":-1.5},{"c":"CZK","d":"2016-07-01","v":-1.6},{"c":"CZK","d":"2016-09-01","v":-1.5},{"c":"CZK","d":"2016-11-01","v":-1.5},{"c":"CZK","d":"2017-01-01","v":-1.5},{"c":"CZK","d":"2017-03-01","v":-1.5},{"c":"CZK","d":"2017-04-10","v":-1.9},{"c":"CZK","d":"2017-05-01","v":-2.6},{"c":"CZK","d":"2017-05-20","v":-3.4},{"c":"CZK","d":"2017-06-10","v":-4.0},{"c":"CZK","d":"2017-07-01","v":-4.9},{"c":"CZK","d":"2017-08-01","v":-5.1},{"c":"CZK","d":"2017-09-01","v":-5.1},{"c":"CZK","d":"2017-10-01","v":-5.5},{"c":"CZK","d":"2017-10-25","v":-6.5},{"c":"CZK","d":"2017-11-15","v":-7.1},{"c":"CZK","d":"2017-12-01","v":-6.4},{"c":"CZK","d":"2017-12-20","v":-6.9},{"c":"CZK","d":"2018-01-10","v":-7.4},{"c":"CZK","d":"2018-02-01","v":-8.0},{"c":"CZK","d":"2018-02-20","v":-7.5},{"c":"CZK","d":"2018-03-10","v":-7.6},{"c":"CZK","d":"2018-04-10","v":-7.4},{"c":"CZK","d":"2018-05-01","v":-6.8},{"c":"CZK","d":"2018-05-20","v":-5.5},{"c":"CZK","d":"2018-06-10","v":-5.0},{"c":"CZK","d":"2018-07-01","v":-4.9},{"c":"CZK","d":"2018-07-15","v":-6.5},{"c":"CZK","d":"2018-08-01","v":-6.8},{"c":"CZK","d":"2018-08-20","v":-6.2},{"c":"CZK","d":"2018-09-10","v":-5.8},{"c":"CZK","d":"2018-10-10","v":-5.5},{"c":"CZK","d":"2018-11-10","v":-5.5},{"c":"CZK","d":"2018-12-01","v":-5.9},{"c":"CZK","d":"2018-12-20","v":-5.5},{"c":"CZK","d":"2019-01-10","v":-5.6},{"c":"CZK","d":"2019-02-01","v":-6.4},{"c":"CZK","d":"2019-02-15","v":-7.0},{"c":"CZK","d":"2019-03-01","v":-6.2},{"c":"CZK","d":"2019-04-01","v":-6.3},{"c":"CZK","d":"2019-05-01","v":-6.4},{"c":"CZK","d":"2019-06-01","v":-6.0},{"c":"CZK","d":"2019-06-20","v":-5.5},{"c":"CZK","d":"2019-07-05","v":-6.3},{"c":"CZK","d":"2019-07-25","v":-6.9},{"c":"CZK","d":"2019-08-15","v":-6.2},{"c":"CZK","d":"2019-09-10","v":-5.8},{"c":"CZK","d":"2019-10-01","v":-6.3},{"c":"CZK","d":"2019-11-01","v":-6.7},{"c":"CZK","d":"2019-12-01","v":-7.5},{"c":"CZK","d":"2020-01-01","v":-7.8},{"c":"CZK","d":"2020-01-25","v":-8.4},{"c":"CZK","d":"2020-02-15","v":-9.25},{"c":"CZK","d":"2020-02-25","v":-8.5},{"c":"CZK","d":"2020-03-05","v":-6.0},{"c":"CZK","d":"2020-03-12","v":-3.9},{"c":"CZK","d":"2020-03-20","v":-0.9},{"c":"CZK","d":"2020-03-26","v":0.1},{"c":"CZK","d":"2020-04-05","v":-0.2},{"c":"CZK","d":"2020-04-15","v":-0.9},{"c":"CZK","d":"2020-04-25","v":-0.5},{"c":"CZK","d":"2020-05-05","v":0.75},{"c":"CZK","d":"2020-05-12","v":-0.5},{"c":"CZK","d":"2020-05-25","v":-3.0},{"c":"CZK","d":"2020-06-10","v":-2.6},{"c":"CZK","d":"2020-06-25","v":-2.8},{"c":"CZK","d":"2020-07-15","v":-4.25},{"c":"CZK","d":"2020-08-05","v":-4.9},{"c":"CZK","d":"2020-08-20","v":-4.75},{"c":"CZK","d":"2020-09-10","v":-2.6},{"c":"CZK","d":"2020-09-25","v":-1.25},{"c":"CZK","d":"2020-10-05","v":-0.5},{"c":"CZK","d":"2020-10-15","v":-0.75},{"c":"CZK","d":"2020-10-25","v":-2.6},{"c":"CZK","d":"2020-11-15","v":-3.6},{"c":"CZK","d":"2020-12-05","v":-4.25},{"c":"CZK","d":"2020-12-20","v":-4.5},{"c":"CZK","d":"2021-01-10","v":-4.9},{"c":"CZK","d":"2021-01-25","v":-6.4},{"c":"CZK","d":"2021-02-10","v":-5.6},{"c":"CZK","d":"2021-02-25","v":-4.25},{"c":"CZK","d":"2021-03-15","v":-4.9},{"c":"CZK","d":"2021-04-05","v":-5.25},{"c":"CZK","d":"2021-04-25","v":-5.6},{"c":"CZK","d":"2021-05-10","v":-7.1},{"c":"CZK","d":"2021-06-01","v":-7.25},{"c":"CZK","d":"2021-06-20","v":-7.25},{"c":"CZK","d":"2021-07-10","v":-6.75},{"c":"CZK","d":"2021-07-25","v":-7.1},{"c":"CZK","d":"2021-08-15","v":-7.4},{"c":"CZK","d":"2021-09-10","v":-7.5},{"c":"CZK","d":"2021-09-25","v":-7.1},{"c":"CZK","d":"2021-10-10","v":-6.5},{"c":"CZK","d":"2021-10-20","v":-7.75},{"c":"CZK","d":"2021-11-05","v":-7.9},{"c":"CZK","d":"2021-11-15","v":-6.75},{"c":"CZK","d":"2021-11-28","v":-7.4},{"c":"CZK","d":"2021-12-20","v":-9.0},{"c":"CZK","d":"2022-01-04","v":-9.9},{"c":"CZK","d":"2022-01-15","v":-10.9},{"c":"CZK","d":"2022-01-22","v":-10.6},{"c":"CZK","d":"2022-02-01","v":-10.9},{"c":"CZK","d":"2022-02-12","v":-10.5},{"c":"CZK","d":"2022-02-18","v":-11.1},{"c":"CZK","d":"2022-02-28","v":-6.5},{"c":"CZK","d":"2022-03-10","v":-9.0},{"c":"CZK","d":"2022-03-19","v":-10.4},{"c":"CZK","d":"2022-04-08","v":-10.4},{"c":"CZK","d":"2022-04-16","v":-10.6},{"c":"CZK","d":"2022-04-30","v":-9.0},{"c":"CZK","d":"2022-05-09","v":-10.25},{"c":"CZK","d":"2022-05-20","v":-10.5},{"c":"CZK","d":"2022-06-04","v":-10.0},{"c":"CZK","d":"2022-06-12","v":-10.1},{"c":"CZK","d":"2022-06-26","v":-10.6},{"c":"CZK","d":"2022-07-10","v":-10.1},{"c":"CZK","d":"2022-07-24","v":-10.5},{"c":"CZK","d":"2022-08-07","v":-10.6},{"c":"CZK","d":"2022-08-26","v":-10.25},{"c":"CZK","d":"2022-09-10","v":-10.5},{"c":"CZK","d":"2022-09-25","v":-10.5},{"c":"CZK","d":"2022-10-11","v":-10.7}
],
"ends":[
{"c":"HUF","d":"2022-10-11","d2":"2023-04-10","v":38.5},
{"c":"PLN","d":"2022-10-11","d2":"2023-04-10","v":16.25},
{"c":"RON","d":"2022-10-11","d2":"2023-04-10","v":10.25},
{"c":"HRK","d":"2022-10-11","d2":"2023-04-10","v":-1.4},
{"c":"CZK","d":"2022-10-11","d2":"2023-04-10","v":-10.7}
],
"events":[{"d":"2020-02-24"},{"d":"2022-02-26"}],
"notes":[{"d":"2019-11-29","v":13.0,"t":"Első Covid-zár"},{"d":"2022-01-01","v":23.25,"t":"Háború"}],
"arrows":[{"d":"2020-01-13","v":13.9,"d2":"2020-02-16","v2":10.4},{"d":"2022-01-15","v":23.5,"d2":"2022-02-21","v2":20.5}]
},
"layer":[
{"data":{"name":"fx"},"transform":[{"filter":"datum.c !== 'HUF'"}],
 "mark":{"type":"line","color":"#c9ad8d","strokeWidth":1,"interpolate":"linear"},
 "encoding":{
  "x":{"field":"d","type":"temporal","scale":{"type":"utc","domain":[{"year":2014,"month":5,"date":9,"utc":true},{"year":2023,"month":4,"date":24,"utc":true}]},
   "axis":{"tickCount":{"interval":"month","step":3},
    "labelExpr":"(utcmonth(datum.value)===0 || (utcyear(datum.value)===2014 && utcmonth(datum.value)===6)) ? [['jan','feb','márc','ápr','máj','jún','júl','aug','szept','okt','nov','dec'][utcmonth(datum.value)], utcFormat(datum.value,'%y')] : ['jan','feb','márc','ápr','máj','jún','júl','aug','szept','okt','nov','dec'][utcmonth(datum.value)]",
    "grid":false,"domain":false,"ticks":true,"tickSize":6,"tickColor":"#8a8a8a","offset":4,"labelPadding":4,"labelColor":"#8a8a8a","labelFontSize":10,"labelLineHeight":13,"labelOverlap":false,"labelFlush":false,
    "title":"Bázis (0%): a 2014. január 1. és június 1. közötti heti értékek átlaga: HUF: 307,2121 / PLN: 4,1819 / CZK: 27,4291 / HRK: 7,6310 / RON: 4,4754",
    "titleX":-20,"titleY":57,"titleAnchor":"start","titleAlign":"left","titleBaseline":"alphabetic","titleFontStyle":"italic","titleFontWeight":"normal","titleFontSize":9.5,"titleColor":"#555555"}},
  "y":{"field":"v","type":"quantitative","scale":{"domain":[-14,40],"nice":false,"zero":false},
   "axis":{"values":[-10,0,10,20,30,40],"format":"d","grid":true,"gridColor":{"condition":{"test":"datum.value === 0","value":"#000000"},"value":"#e2e2e2"},"gridWidth":1,"domain":false,"ticks":false,"labelPadding":4,"labelColor":"#9a9a9a","labelFontSize":10,
    "title":"Grafikon: Telex.hu • Forrás: Investing.com • A készítéshez használt program: Datawrapper",
    "titleAngle":0,"titleX":-20,"titleY":510,"titleAlign":"left","titleAnchor":"start","titleBaseline":"alphabetic","titleFontWeight":"normal","titleFontSize":8.7,"titleColor":"#888888"}},
  "detail":{"field":"c","type":"nominal"}}},
{"data":{"name":"events"},"mark":{"type":"rule","color":"#e39b9b","strokeWidth":1,"strokeDash":[2,2]},
 "encoding":{"x":{"field":"d","type":"temporal"}}},
{"data":{"name":"ends"},"mark":{"type":"rule","strokeWidth":1,"strokeDash":[1.5,2]},
 "encoding":{"x":{"field":"d","type":"temporal"},"x2":{"field":"d2"},"y":{"field":"v","type":"quantitative"},
  "color":{"condition":{"test":"datum.c === 'HUF'","value":"#7fd6c2"},"value":"#cdb698"}}},
{"data":{"name":"fx"},"transform":[{"filter":"datum.c === 'HUF'"}],
 "mark":{"type":"line","color":"#16b294","strokeWidth":2.2,"interpolate":"linear"},
 "encoding":{"x":{"field":"d","type":"temporal"},"y":{"field":"v","type":"quantitative"}}},
{"data":{"name":"ends"},"transform":[{"filter":"datum.c === 'HUF'"}],
 "mark":{"type":"circle","color":"#16b294","opacity":1,"size":32},
 "encoding":{"x":{"field":"d","type":"temporal"},"y":{"field":"v","type":"quantitative"}}},
{"data":{"name":"ends"},"mark":{"type":"text","align":"left","baseline":"middle","dx":2,"fontSize":9.5,"color":"#333333","font":"Roboto"},
 "encoding":{"x":{"field":"d2","type":"temporal"},"y":{"field":"v","type":"quantitative"},"text":{"field":"c"}}},
{"data":{"name":"notes"},"mark":{"type":"text","align":"right","baseline":"middle","fontSize":7.5,"color":"#333333","font":"Roboto"},
 "encoding":{"x":{"field":"d","type":"temporal"},"y":{"field":"v","type":"quantitative"},"text":{"field":"t"}}},
{"data":{"name":"arrows"},"mark":{"type":"rule","color":"#333333","strokeWidth":1},
 "encoding":{"x":{"field":"d","type":"temporal"},"y":{"field":"v","type":"quantitative"},"x2":{"field":"d2"},"y2":{"field":"v2"}}},
{"data":{"name":"arrows"},"mark":{"type":"point","shape":"triangle","filled":true,"color":"#333333","opacity":1,"size":14,"angle":155},
 "encoding":{"x":{"field":"d2","type":"temporal"},"y":{"field":"v2","type":"quantitative"}}}
],
"config":{"font":"Roboto","view":{"stroke":null},"axis":{"labelFont":"Roboto","titleFont":"Roboto"}}
}
